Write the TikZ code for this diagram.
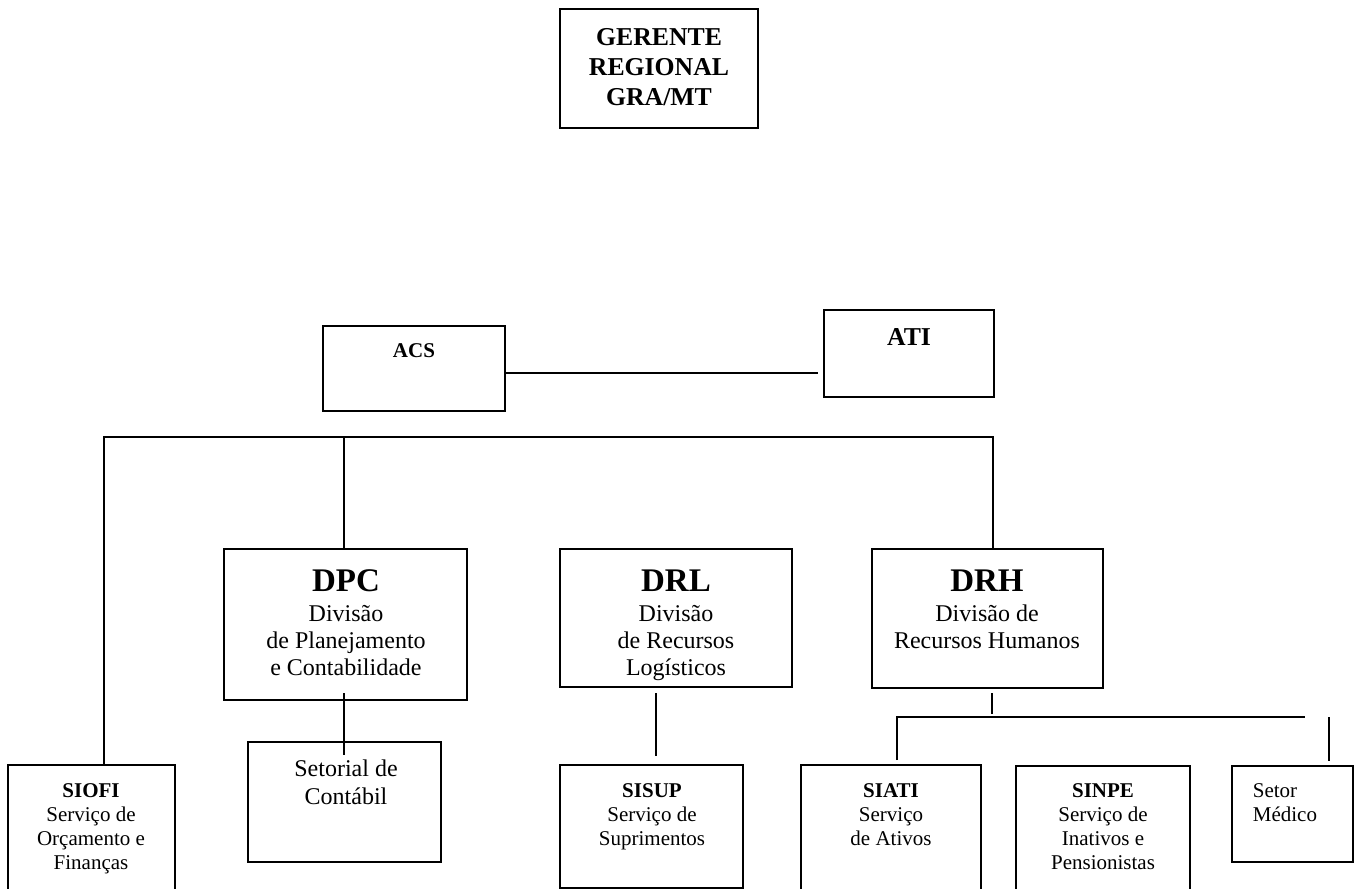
\documentclass[tikz,border=0pt]{standalone}
\usepackage{fontspec}
\setmainfont{Liberation Serif}
\usetikzlibrary{fit}

\newcommand\headfont{\fontsize{24.75}{27}\selectfont\bfseries}
\newcommand\topfont{\fontsize{19.3}{22.5}\selectfont\bfseries}
\newcommand\divfont{\fontsize{18}{20.25}\selectfont}
\newcommand\servfont{\fontsize{15.75}{18}\selectfont}

\begin{document}
\begin{tikzpicture}[x=0.75pt, y=-0.75pt, line width=1.3pt,
  unit/.style={draw, inner sep=0pt},
  unit text/.style={anchor=north, align=center, inner sep=0pt}]

\useasboundingbox (0,0) rectangle (1361,889);

% boxes
\foreach \n/\xa/\ya/\xb/\yb in {gerente/560/9/758/128, acs/323/326/505/411,
    ati/824/310/994/397, dpc/224/549/467/700, drl/560/549/792/687,
    drh/872/549/1103/688, siofi/8/765/175/930, setorial/248/742/441/862,
    sisup/560/765/743/888, siati/801/765/981/930, sinpe/1016/766/1190/930,
    setor/1232/766/1353/862}
  \node [unit, fit={(\xa,\ya) (\xb,\yb)}] (\n) {};

% texts
\node [align=center, inner sep=0pt, font=\topfont] (gerente-text)
  at ([yshift=1pt]gerente.center) {GERENTE\\REGIONAL\\GRA/MT};
\node [unit text, font=\servfont\bfseries] (acs-text) at (414,343) {ACS};
\node [unit text, font=\topfont] (ati-text) at (909,328) {ATI};

\node [unit text, font=\divfont] (dpc-text) at (346,569)
  {{\headfont DPC}\\[2.25pt]Divisão\\de Planejamento\\e Contabilidade};
\node [unit text, font=\divfont] (drl-text) at (676,569)
  {{\headfont DRL}\\[2.25pt]Divisão\\de Recursos\\Logísticos};
\node [unit text, font=\divfont] (drh-text) at (987,569)
  {{\headfont DRH}\\[2.25pt]Divisão de\\Recursos Humanos};

\node [unit text, font=\fontsize{18}{21}\selectfont] (setorial-text)
  at (346,759) {Setorial de\\Contábil};
\node [unit text, font=\servfont] (siofi-text) at (91,783)
  {{\bfseries SIOFI}\\Serviço de\\Orçamento e\\Finanças};
\node [unit text, font=\servfont] (sisup-text) at (652,783)
  {{\bfseries SISUP}\\Serviço de\\Suprimentos};
\node [unit text, font=\servfont] (siati-text) at (891,783)
  {{\bfseries SIATI}\\Serviço\\de Ativos};
\node [unit text, font=\servfont] (sinpe-text) at (1103,783)
  {{\bfseries SINPE}\\Serviço de\\Inativos e\\Pensionistas};
\node [unit text, anchor=north west, align=left, font=\servfont] (setor-text)
  at (1252,783) {Setor\\Médico};

% connectors
\coordinate (ati-in) at (818,373);
\draw (acs.east |- ati-in) -- (ati-in);

\coordinate (bus-left) at (104,437);
\coordinate (bus-mid) at (344,437);
\coordinate (bus-right) at (993,437);
\draw (bus-left |- siofi.north) -- (bus-left) -- (bus-right) -- (bus-right |- drh.north);
\draw (bus-mid) -- (bus-mid |- dpc.north);

\coordinate (dpc-out) at (344,693);
\coordinate (setorial-in) at (344,755);
\draw (dpc-out) -- (setorial-in);

\coordinate (drl-out) at (656,693);
\coordinate (sisup-in) at (656,756);
\draw (drl-out) -- (sisup-in);

\coordinate (drh-out) at (992,693);
\coordinate (drh-bus) at (992,714);
\draw (drh-out) -- (drh-bus);

\coordinate (siati-in) at (897,760);
\coordinate (sub-left) at (897,717);
\coordinate (sub-gray) at (1089,717);
\coordinate (sub-right) at (1305,717);
\draw (siati-in) -- (sub-left) -- (sub-gray);
\draw (sub-gray) -- (sub-right);

\coordinate (setor-top) at (1329,717);
\coordinate (setor-in) at (1329,761);
\draw (setor-top) -- (setor-in);

\end{tikzpicture}
\end{document}
